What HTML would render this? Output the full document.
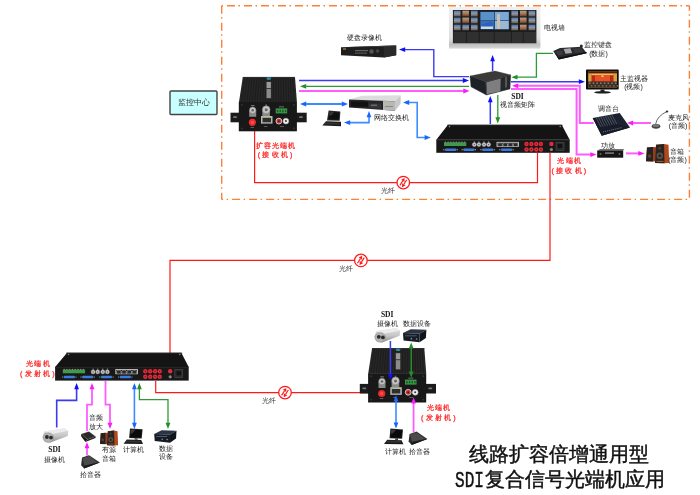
<!DOCTYPE html><html><head><meta charset="utf-8"><style>html,body{margin:0;padding:0;background:#fff;}svg{display:block;will-change:transform}</style></head><body>
<svg width="700" height="495" viewBox="0 0 700 495">
<line x1="221.7" y1="5.7" x2="689.4" y2="5.7" stroke="#fa8236" stroke-width="1.4" stroke-dasharray="8 3.5 1.5 4" stroke-dashoffset="11.7"/>
<line x1="689.4" y1="5.7" x2="689.4" y2="199.4" stroke="#fa8236" stroke-width="1.4" stroke-dasharray="8 3.5 1.5 4" stroke-dashoffset="3"/>
<line x1="221.7" y1="5.7" x2="221.7" y2="199.4" stroke="#fa8236" stroke-width="1.4" stroke-dasharray="8 3.5 1.5 4" stroke-dashoffset="0"/>
<line x1="221.7" y1="199.4" x2="689.4" y2="199.4" stroke="#fa8236" stroke-width="1.4" stroke-dasharray="8 3.5 1.5 4" stroke-dashoffset="6.6"/>
<rect x="170" y="91" width="47" height="23.5" rx="1" fill="#c8ffff" stroke="#444" stroke-width="1.4"/>
<text x="193.5" y="105" font-size="8.2" fill="#333" text-anchor="middle" font-weight="normal" font-family="Liberation Sans">监控中心</text>
<path d="M299,80.5 L466,80.5" fill="none" stroke="#3b3bf2" stroke-width="1.4" stroke-linejoin="miter"/>
<polygon points="469,80.5 462.8,78.1 462.8,82.9" fill="#1010f8"/>
<path d="M303,86.3 L469,86.3" fill="none" stroke="#2f9a34" stroke-width="1.3" stroke-linejoin="miter"/>
<polygon points="300,86.3 306.2,83.89999999999999 306.2,88.7" fill="#229028"/>
<path d="M299,91 L466,91" fill="none" stroke="#ff5cff" stroke-width="2" stroke-linejoin="miter"/>
<polygon points="469.5,91 463.3,88.6 463.3,93.4" fill="#f81cf8"/>
<path d="M303,104 L345,104" fill="none" stroke="#3b8cff" stroke-width="2" stroke-linejoin="miter"/>
<polygon points="300,104 306.2,101.6 306.2,106.4" fill="#1866ff"/>
<polygon points="348,104 341.8,101.6 341.8,106.4" fill="#1866ff"/>
<path d="M469,76.6 L433.8,76.6 L433.8,49.6 L403,49.6" fill="none" stroke="#3b3bf2" stroke-width="1.4" stroke-linejoin="miter"/>
<polygon points="399,49.6 405.2,47.2 405.2,52.0" fill="#1010f8"/>
<path d="M369,114 L369,122.6 L347,122.6" fill="none" stroke="#3b8cff" stroke-width="1.6" stroke-linejoin="miter"/>
<polygon points="369,111 366.6,117.2 371.4,117.2" fill="#1866ff"/>
<polygon points="344,122.6 350.2,120.19999999999999 350.2,125.0" fill="#1866ff"/>
<path d="M406,102.5 L417.2,102.5 L417.2,137.5 L427,137.5" fill="none" stroke="#3b8cff" stroke-width="1.6" stroke-linejoin="miter"/>
<polygon points="403,102.5 409.2,100.1 409.2,104.9" fill="#1866ff"/>
<polygon points="430.8,137.5 424.6,135.1 424.6,139.9" fill="#1866ff"/>
<path d="M492.6,71 L492.6,58" fill="none" stroke="#3b3bf2" stroke-width="1.5" stroke-linejoin="miter"/>
<polygon points="492.6,55 490.20000000000005,61.2 495.0,61.2" fill="#1010f8"/>
<path d="M553,53.4 L536.4,53.4 L536.4,77.2 L514.5,77.2" fill="none" stroke="#2f9a34" stroke-width="1.3" stroke-linejoin="miter"/>
<polygon points="511.3,77.2 517.5,74.8 517.5,79.60000000000001" fill="#229028"/>
<path d="M511,81.7 L582,81.7" fill="none" stroke="#3b3bf2" stroke-width="1.5" stroke-linejoin="miter"/>
<polygon points="585,81.7 578.8,79.3 578.8,84.10000000000001" fill="#1010f8"/>
<path d="M593.6,123 L579.8,123 L579.8,85.8 L515,85.8" fill="none" stroke="#ff5cff" stroke-width="2" stroke-linejoin="miter"/>
<polygon points="512,85.8 518.2,83.39999999999999 518.2,88.2" fill="#f81cf8"/>
<path d="M511,89 L576.6,89 L576.6,154.6 L593,154.6" fill="none" stroke="#ff5cff" stroke-width="2" stroke-linejoin="miter"/>
<polygon points="596.5,154.6 590.3,152.2 590.3,157.0" fill="#f81cf8"/>
<path d="M651,123 L630,123" fill="none" stroke="#ff5cff" stroke-width="2" stroke-linejoin="miter"/>
<polygon points="627,123 633.2,120.6 633.2,125.4" fill="#f81cf8"/>
<path d="M626,153.4 L641,153.4" fill="none" stroke="#ff5cff" stroke-width="2" stroke-linejoin="miter"/>
<polygon points="644.5,153.4 638.3,151.0 638.3,155.8" fill="#f81cf8"/>
<path d="M490.3,124 L490.3,99" fill="none" stroke="#3b3bf2" stroke-width="1.5" stroke-linejoin="miter"/>
<polygon points="490.3,96 487.90000000000003,102.2 492.7,102.2" fill="#1010f8"/>
<path d="M497.8,95 L497.8,120" fill="none" stroke="#2f9a34" stroke-width="1.3" stroke-linejoin="miter"/>
<polygon points="497.8,123.5 495.40000000000003,117.3 500.2,117.3" fill="#229028"/>
<path d="M537.5,153 L537.5,182.7 L254.6,182.7 L254.6,131" fill="none" stroke="#ff1a1a" stroke-width="1.2" stroke-linejoin="miter"/>
<circle cx="403.3" cy="182.6" r="6.3" fill="#fff" stroke="#ff1a1a" stroke-width="1.3"/>
<path d="M399.90,185.40 L402.78,180.87" stroke="#ff1a1a" stroke-width="1.1"/>
<polygon points="404.60,178.00 404.47,181.94 401.09,179.80" fill="#ff1a1a"/>
<path d="M406.70,179.80 L403.82,184.33" stroke="#ff1a1a" stroke-width="1.1"/>
<polygon points="402.00,187.20 402.13,183.26 405.51,185.40" fill="#ff1a1a"/>
<text x="388" y="193" font-size="6.5" fill="#333" text-anchor="middle" font-weight="normal" font-family="Liberation Sans">光纤</text>
<path d="M550,153 L550,260.4 L170,260.4 L170,353" fill="none" stroke="#ff1a1a" stroke-width="1.2" stroke-linejoin="miter"/>
<circle cx="360.9" cy="260.4" r="6.3" fill="#fff" stroke="#ff1a1a" stroke-width="1.3"/>
<path d="M357.50,263.20 L360.38,258.67" stroke="#ff1a1a" stroke-width="1.1"/>
<polygon points="362.20,255.80 362.07,259.74 358.69,257.60" fill="#ff1a1a"/>
<path d="M364.30,257.60 L361.42,262.13" stroke="#ff1a1a" stroke-width="1.1"/>
<polygon points="359.60,265.00 359.73,261.06 363.11,263.20" fill="#ff1a1a"/>
<text x="345.6" y="271" font-size="6.5" fill="#333" text-anchor="middle" font-weight="normal" font-family="Liberation Sans">光纤</text>
<path d="M155.7,381 L155.7,392.7 L369,392.7" fill="none" stroke="#ff1a1a" stroke-width="1.2" stroke-linejoin="miter"/>
<circle cx="285" cy="392.6" r="6.3" fill="#fff" stroke="#ff1a1a" stroke-width="1.3"/>
<path d="M281.60,395.40 L284.48,390.87" stroke="#ff1a1a" stroke-width="1.1"/>
<polygon points="286.30,388.00 286.17,391.94 282.79,389.80" fill="#ff1a1a"/>
<path d="M288.40,389.80 L285.52,394.33" stroke="#ff1a1a" stroke-width="1.1"/>
<polygon points="283.70,397.20 283.83,393.26 287.21,395.40" fill="#ff1a1a"/>
<text x="269" y="403" font-size="6.5" fill="#333" text-anchor="middle" font-weight="normal" font-family="Liberation Sans">光纤</text>
<path d="M56.7,427.6 L56.7,400.4 L76.6,400.4 L76.6,386" fill="none" stroke="#3b3bf2" stroke-width="1.6" stroke-linejoin="miter"/>
<polygon points="76.6,383 74.19999999999999,389.2 79.0,389.2" fill="#1010f8"/>
<path d="M87,431 L87,404.6 L92,404.6 L92,386" fill="none" stroke="#ff5cff" stroke-width="1.8" stroke-linejoin="miter"/>
<polygon points="92,383 89.6,389.2 94.4,389.2" fill="#f81cf8"/>
<path d="M105.5,381 L105.5,404.6 L110,404.6 L110,426" fill="none" stroke="#ff5cff" stroke-width="1.8" stroke-linejoin="miter"/>
<polygon points="110,429 107.6,422.8 112.4,422.8" fill="#f81cf8"/>
<path d="M134.4,386 L134.4,426" fill="none" stroke="#3b8cff" stroke-width="1.6" stroke-linejoin="miter"/>
<polygon points="134.4,383 132.0,389.2 136.8,389.2" fill="#1866ff"/>
<polygon points="134.4,429 132.0,422.8 136.8,422.8" fill="#1866ff"/>
<path d="M139.4,386 L139.4,399.7 L168,399.7 L168,426" fill="none" stroke="#2f9a34" stroke-width="1.3" stroke-linejoin="miter"/>
<polygon points="139.4,383 137.0,389.2 141.8,389.2" fill="#229028"/>
<polygon points="168,429 165.6,422.8 170.4,422.8" fill="#229028"/>
<path d="M87,455.6 L87,445" fill="none" stroke="#ff5cff" stroke-width="1.8" stroke-linejoin="miter"/>
<polygon points="87,442 84.6,448.2 89.4,448.2" fill="#f81cf8"/>
<g transform="translate(239,101)">
<rect x="-8.5" y="11.7" width="76.2" height="9.6" fill="#1b1b1b"/>
<rect x="-6" y="15.2" width="4" height="1.8" rx="0.9" fill="#777"/>
<rect x="60" y="15.2" width="4" height="1.8" rx="0.9" fill="#777"/>
<polygon points="3.8,-24.1 56.0,-24.1 57.9,0.9 0.0,0.9" fill="#262626"/>
<line x1="6.2" y1="-23.6" x2="2.6" y2="0.5" stroke="#151515" stroke-width="0.6"/>
<line x1="8.5" y1="-23.6" x2="5.3" y2="0.5" stroke="#151515" stroke-width="0.6"/>
<line x1="10.9" y1="-23.6" x2="7.9" y2="0.5" stroke="#151515" stroke-width="0.6"/>
<line x1="13.3" y1="-23.6" x2="10.5" y2="0.5" stroke="#151515" stroke-width="0.6"/>
<line x1="15.7" y1="-23.6" x2="13.2" y2="0.5" stroke="#151515" stroke-width="0.6"/>
<line x1="18.0" y1="-23.6" x2="15.8" y2="0.5" stroke="#151515" stroke-width="0.6"/>
<line x1="20.4" y1="-23.6" x2="18.4" y2="0.5" stroke="#151515" stroke-width="0.6"/>
<line x1="22.8" y1="-23.6" x2="21.1" y2="0.5" stroke="#151515" stroke-width="0.6"/>
<line x1="25.2" y1="-23.6" x2="23.7" y2="0.5" stroke="#151515" stroke-width="0.6"/>
<line x1="27.5" y1="-23.6" x2="26.3" y2="0.5" stroke="#151515" stroke-width="0.6"/>
<line x1="29.9" y1="-23.6" x2="28.9" y2="0.5" stroke="#151515" stroke-width="0.6"/>
<line x1="32.3" y1="-23.6" x2="31.6" y2="0.5" stroke="#151515" stroke-width="0.6"/>
<line x1="34.6" y1="-23.6" x2="34.2" y2="0.5" stroke="#151515" stroke-width="0.6"/>
<line x1="37.0" y1="-23.6" x2="36.8" y2="0.5" stroke="#151515" stroke-width="0.6"/>
<line x1="39.4" y1="-23.6" x2="39.5" y2="0.5" stroke="#151515" stroke-width="0.6"/>
<line x1="41.8" y1="-23.6" x2="42.1" y2="0.5" stroke="#151515" stroke-width="0.6"/>
<line x1="44.1" y1="-23.6" x2="44.7" y2="0.5" stroke="#151515" stroke-width="0.6"/>
<line x1="46.5" y1="-23.6" x2="47.4" y2="0.5" stroke="#151515" stroke-width="0.6"/>
<line x1="48.9" y1="-23.6" x2="50.0" y2="0.5" stroke="#151515" stroke-width="0.6"/>
<line x1="51.3" y1="-23.6" x2="52.6" y2="0.5" stroke="#151515" stroke-width="0.6"/>
<line x1="53.6" y1="-23.6" x2="55.3" y2="0.5" stroke="#151515" stroke-width="0.6"/>
<rect x="3.8" y="-24.1" width="52.2" height="0.8" fill="#333"/>
<rect x="27.2" y="-19.5" width="5.1" height="17.2" fill="#3a3a3a"/>
<rect x="27.6" y="-19" width="4.3" height="6" fill="#9a9a9a"/>
<rect x="27.6" y="-12" width="4.3" height="9" fill="#8a8a8a"/>
<ellipse cx="29.8" cy="-22.8" rx="2.6" ry="1.2" fill="#2a70c0"/>
<ellipse cx="29.8" cy="-21.8" rx="1.8" ry="0.6" fill="#40a050"/>
<rect x="-0.2" y="0.9" width="58.1" height="29.4" fill="#181818"/>
<circle cx="2.8" cy="4" r="1" fill="#333"/>
<circle cx="55" cy="4" r="1" fill="#333"/>
<circle cx="2.8" cy="27.5" r="1" fill="#333"/>
<circle cx="55" cy="27.5" r="1" fill="#333"/>
<rect x="10.2" y="9.5" width="7" height="6.3" fill="#8a8a8a"/>
<circle cx="13.7" cy="9.3" r="3.3" fill="#c4c4c4" stroke="#777" stroke-width="0.5"/>
<circle cx="13.7" cy="9.3" r="1.3" fill="#666"/>
<rect x="12" y="4.3" width="3.5" height="0.8" fill="#999"/>
<circle cx="13.4" cy="21.3" r="3.6" fill="#ee2a2a"/>
<circle cx="13.4" cy="21.3" r="1.6" fill="#ff5050"/>
<rect x="23.3" y="10" width="7.6" height="5.2" fill="#8a8a8a"/>
<circle cx="27.2" cy="8.7" r="3.9" fill="#c4c4c4" stroke="#777" stroke-width="0.5"/>
<circle cx="27.2" cy="8.7" r="1.5" fill="#666"/>
<rect x="26.4" y="3.6" width="1.6" height="0.8" fill="#999"/>
<rect x="22" y="15" width="11.5" height="7.6" fill="#b8b8b8"/>
<rect x="23.5" y="16.8" width="8.5" height="4.5" fill="#2e2e2e"/>
<rect x="23.3" y="15.4" width="1.6" height="1" fill="#9c0"/><rect x="30.6" y="15.4" width="1.6" height="1" fill="#dc0"/>
<rect x="36.7" y="7.4" width="11.5" height="5" fill="#3b9a48"/>
<rect x="37.8" y="8.8" width="1.5" height="2.4" fill="#1d5a26"/>
<rect x="40.5" y="8.8" width="1.5" height="2.4" fill="#1d5a26"/>
<rect x="43.2" y="8.8" width="1.5" height="2.4" fill="#1d5a26"/>
<rect x="45.9" y="8.8" width="1.5" height="2.4" fill="#1d5a26"/>
<rect x="40" y="5.5" width="5" height="0.8" fill="#888"/>
<circle cx="39.9" cy="20.1" r="2.9" fill="#d03030" stroke="#d8d8d8" stroke-width="0.9"/>
<circle cx="39.9" cy="20.1" r="0.9" fill="#222"/>
<circle cx="46.9" cy="20.1" r="2.9" fill="#f0f0f0" stroke="#aaa" stroke-width="0.6"/>
<circle cx="46.9" cy="20.1" r="1" fill="#333"/>
<rect x="11.5" y="26" width="3.5" height="0.7" fill="#777"/><rect x="25" y="25" width="3.5" height="0.7" fill="#777"/><rect x="41" y="25" width="4" height="0.7" fill="#777"/>
</g>
<g transform="translate(368.3,372.2)">
<rect x="-8.5" y="11.7" width="76.2" height="9.6" fill="#1b1b1b"/>
<rect x="-6" y="15.2" width="4" height="1.8" rx="0.9" fill="#777"/>
<rect x="60" y="15.2" width="4" height="1.8" rx="0.9" fill="#777"/>
<polygon points="3.8,-24.1 56.0,-24.1 57.9,0.9 0.0,0.9" fill="#262626"/>
<line x1="6.2" y1="-23.6" x2="2.6" y2="0.5" stroke="#151515" stroke-width="0.6"/>
<line x1="8.5" y1="-23.6" x2="5.3" y2="0.5" stroke="#151515" stroke-width="0.6"/>
<line x1="10.9" y1="-23.6" x2="7.9" y2="0.5" stroke="#151515" stroke-width="0.6"/>
<line x1="13.3" y1="-23.6" x2="10.5" y2="0.5" stroke="#151515" stroke-width="0.6"/>
<line x1="15.7" y1="-23.6" x2="13.2" y2="0.5" stroke="#151515" stroke-width="0.6"/>
<line x1="18.0" y1="-23.6" x2="15.8" y2="0.5" stroke="#151515" stroke-width="0.6"/>
<line x1="20.4" y1="-23.6" x2="18.4" y2="0.5" stroke="#151515" stroke-width="0.6"/>
<line x1="22.8" y1="-23.6" x2="21.1" y2="0.5" stroke="#151515" stroke-width="0.6"/>
<line x1="25.2" y1="-23.6" x2="23.7" y2="0.5" stroke="#151515" stroke-width="0.6"/>
<line x1="27.5" y1="-23.6" x2="26.3" y2="0.5" stroke="#151515" stroke-width="0.6"/>
<line x1="29.9" y1="-23.6" x2="28.9" y2="0.5" stroke="#151515" stroke-width="0.6"/>
<line x1="32.3" y1="-23.6" x2="31.6" y2="0.5" stroke="#151515" stroke-width="0.6"/>
<line x1="34.6" y1="-23.6" x2="34.2" y2="0.5" stroke="#151515" stroke-width="0.6"/>
<line x1="37.0" y1="-23.6" x2="36.8" y2="0.5" stroke="#151515" stroke-width="0.6"/>
<line x1="39.4" y1="-23.6" x2="39.5" y2="0.5" stroke="#151515" stroke-width="0.6"/>
<line x1="41.8" y1="-23.6" x2="42.1" y2="0.5" stroke="#151515" stroke-width="0.6"/>
<line x1="44.1" y1="-23.6" x2="44.7" y2="0.5" stroke="#151515" stroke-width="0.6"/>
<line x1="46.5" y1="-23.6" x2="47.4" y2="0.5" stroke="#151515" stroke-width="0.6"/>
<line x1="48.9" y1="-23.6" x2="50.0" y2="0.5" stroke="#151515" stroke-width="0.6"/>
<line x1="51.3" y1="-23.6" x2="52.6" y2="0.5" stroke="#151515" stroke-width="0.6"/>
<line x1="53.6" y1="-23.6" x2="55.3" y2="0.5" stroke="#151515" stroke-width="0.6"/>
<rect x="3.8" y="-24.1" width="52.2" height="0.8" fill="#333"/>
<rect x="27.2" y="-19.5" width="5.1" height="17.2" fill="#3a3a3a"/>
<rect x="27.6" y="-19" width="4.3" height="6" fill="#9a9a9a"/>
<rect x="27.6" y="-12" width="4.3" height="9" fill="#8a8a8a"/>
<ellipse cx="29.8" cy="-22.8" rx="2.6" ry="1.2" fill="#2a70c0"/>
<ellipse cx="29.8" cy="-21.8" rx="1.8" ry="0.6" fill="#40a050"/>
<rect x="-0.2" y="0.9" width="58.1" height="29.4" fill="#181818"/>
<circle cx="2.8" cy="4" r="1" fill="#333"/>
<circle cx="55" cy="4" r="1" fill="#333"/>
<circle cx="2.8" cy="27.5" r="1" fill="#333"/>
<circle cx="55" cy="27.5" r="1" fill="#333"/>
<rect x="10.2" y="9.5" width="7" height="6.3" fill="#8a8a8a"/>
<circle cx="13.7" cy="9.3" r="3.3" fill="#c4c4c4" stroke="#777" stroke-width="0.5"/>
<circle cx="13.7" cy="9.3" r="1.3" fill="#666"/>
<rect x="12" y="4.3" width="3.5" height="0.8" fill="#999"/>
<circle cx="13.4" cy="21.3" r="3.6" fill="#ee2a2a"/>
<circle cx="13.4" cy="21.3" r="1.6" fill="#ff5050"/>
<rect x="23.3" y="10" width="7.6" height="5.2" fill="#8a8a8a"/>
<circle cx="27.2" cy="8.7" r="3.9" fill="#c4c4c4" stroke="#777" stroke-width="0.5"/>
<circle cx="27.2" cy="8.7" r="1.5" fill="#666"/>
<rect x="26.4" y="3.6" width="1.6" height="0.8" fill="#999"/>
<rect x="22" y="15" width="11.5" height="7.6" fill="#b8b8b8"/>
<rect x="23.5" y="16.8" width="8.5" height="4.5" fill="#2e2e2e"/>
<rect x="23.3" y="15.4" width="1.6" height="1" fill="#9c0"/><rect x="30.6" y="15.4" width="1.6" height="1" fill="#dc0"/>
<rect x="36.7" y="7.4" width="11.5" height="5" fill="#3b9a48"/>
<rect x="37.8" y="8.8" width="1.5" height="2.4" fill="#1d5a26"/>
<rect x="40.5" y="8.8" width="1.5" height="2.4" fill="#1d5a26"/>
<rect x="43.2" y="8.8" width="1.5" height="2.4" fill="#1d5a26"/>
<rect x="45.9" y="8.8" width="1.5" height="2.4" fill="#1d5a26"/>
<rect x="40" y="5.5" width="5" height="0.8" fill="#888"/>
<circle cx="39.9" cy="20.1" r="2.9" fill="#d03030" stroke="#d8d8d8" stroke-width="0.9"/>
<circle cx="39.9" cy="20.1" r="0.9" fill="#222"/>
<circle cx="46.9" cy="20.1" r="2.9" fill="#f0f0f0" stroke="#aaa" stroke-width="0.6"/>
<circle cx="46.9" cy="20.1" r="1" fill="#333"/>
<rect x="11.5" y="26" width="3.5" height="0.7" fill="#777"/><rect x="25" y="25" width="3.5" height="0.7" fill="#777"/><rect x="41" y="25" width="4" height="0.7" fill="#777"/>
</g>
<polygon points="341.0,47.2 385.0,45.8 396.2,45.5 396.2,55.3 384.0,57.5 341.0,55.2" fill="#1e1e1e"/>
<polygon points="384.0,46.5 396.2,45.5 396.2,55.3 384.0,57.5" fill="#2a2a2a"/>
<polygon points="341.0,47.2 385.0,45.8 396.2,45.5 384.0,47.0" fill="#3a3a3a"/>
<rect x="343" y="48.5" width="3" height="1" fill="#c9a040"/>
<rect x="355" y="50" width="13" height="1.2" fill="#666"/>
<rect x="355" y="52.5" width="12" height="1.2" fill="#555"/>
<circle cx="371.5" cy="51.5" r="2.2" fill="#555"/>
<circle cx="377.5" cy="51" r="1.8" fill="#444"/>
<polygon points="349.0,99.5 362.0,95.8 400.6,95.3 395.0,101.3" fill="#dcdcdc"/>
<polygon points="349.0,99.5 395.0,101.3 395.0,110.8 349.0,107.6" fill="#262626"/>
<polygon points="383.0,100.9 395.0,101.3 395.0,110.8 383.0,110.0" fill="#b8b8b8"/>
<polygon points="395.0,101.3 400.6,95.3 400.6,103.8 395.0,110.8" fill="#c8c8c8"/>
<rect x="351" y="101.5" width="17" height="5.2" fill="#121212"/>
<rect x="369" y="103.5" width="12" height="5" fill="#333"/>
<rect x="371" y="104.5" width="6" height="1.6" fill="#667"/>
<rect x="387" y="103" width="2.5" height="1" fill="#e0c040"/>
<rect x="385" y="106" width="8" height="1" fill="#888"/>
<g transform="translate(322.3,110.6) scale(1.0)">
<polygon points="6.3,0.0 18.1,1.0 17.4,10.2 4.7,10.0" fill="#2a2a2a"/>
<polygon points="7.3,1.2 17.0,2.0 16.4,9.2 6.0,9.0" fill="#0e0e0e"/>
<polygon points="7.3,1.2 12.0,1.6 9.0,5.0 6.6,5.0" fill="#333"/>
<polygon points="3.7,10.6 18.7,11.2 18.7,15.6 0.0,14.9" fill="#1c1c1c"/>
<polygon points="3.0,12.0 17.5,12.5 17.5,14.0 1.5,13.6" fill="#333"/>
</g>
<defs><linearGradient id="vwg" x1="0" y1="0" x2="0" y2="1"><stop offset="0" stop-color="#efefef"/><stop offset="0.75" stop-color="#e0e0e0"/><stop offset="0.9" stop-color="#c0c0c0"/><stop offset="1" stop-color="#d8d8d8"/></linearGradient><linearGradient id="scr" x1="0" y1="0" x2="0" y2="1"><stop offset="0" stop-color="#4f74a8"/><stop offset="0.5" stop-color="#8a98a8"/><stop offset="1" stop-color="#6a5648"/></linearGradient><linearGradient id="scr2" x1="0" y1="0" x2="0" y2="1"><stop offset="0" stop-color="#b8a088"/><stop offset="0.6" stop-color="#a86a48"/><stop offset="1" stop-color="#4a4038"/></linearGradient></defs>
<rect x="449" y="7.1" width="91.4" height="41.5" fill="url(#vwg)"/>
<rect x="452.9" y="10" width="83.5" height="33.3" fill="#1e1e1e"/>
<rect x="453.9" y="10.7" width="6.6" height="5.7" fill="url(#scr)"/>
<rect x="462.4" y="10.7" width="6.6" height="5.7" fill="url(#scr2)"/>
<rect x="471" y="10.7" width="6.6" height="5.7" fill="url(#scr)"/>
<rect x="453.9" y="17.6" width="6.6" height="5.7" fill="url(#scr)"/>
<rect x="462.4" y="17.6" width="6.6" height="5.7" fill="url(#scr2)"/>
<rect x="471" y="17.6" width="6.6" height="5.7" fill="url(#scr)"/>
<rect x="453.9" y="24.7" width="6.6" height="5.7" fill="url(#scr)"/>
<rect x="462.4" y="24.7" width="6.6" height="5.7" fill="url(#scr)"/>
<rect x="471" y="24.7" width="6.6" height="5.7" fill="url(#scr)"/>
<rect x="511.4" y="10.7" width="6.6" height="5.7" fill="url(#scr)"/>
<rect x="520" y="10.7" width="6.6" height="5.7" fill="url(#scr2)"/>
<rect x="528.6" y="10.7" width="6.6" height="5.7" fill="url(#scr)"/>
<rect x="511.4" y="17.6" width="6.6" height="5.7" fill="url(#scr)"/>
<rect x="520" y="17.6" width="6.6" height="5.7" fill="url(#scr2)"/>
<rect x="528.6" y="17.6" width="6.6" height="5.7" fill="url(#scr)"/>
<rect x="511.4" y="24.7" width="6.6" height="5.7" fill="url(#scr)"/>
<rect x="520" y="24.7" width="6.6" height="5.7" fill="url(#scr2)"/>
<rect x="528.6" y="24.7" width="6.6" height="5.7" fill="url(#scr)"/>
<rect x="480" y="11.4" width="29.3" height="18.2" fill="#1a3a6a"/>
<rect x="480.5" y="12" width="13.8" height="8.4" fill="#5a90c8"/>
<rect x="495" y="12" width="13.8" height="8.4" fill="#7aa8d8"/>
<rect x="480.5" y="21" width="13.8" height="8.2" fill="#3a70b0"/>
<rect x="495" y="21" width="13.8" height="8.2" fill="#9ab8d0"/>
<polygon points="481,25 490,21.5 494,24 486,29" fill="#2a60c0"/>
<rect x="497" y="14" width="3" height="15" fill="#c8c0b0"/>
<rect x="481" y="26.5" width="12" height="2.5" fill="#d0d8e0"/>
<rect x="453.5" y="31.4" width="82.5" height="11.5" fill="#303030"/>
<line x1="466.4" y1="31.5" x2="466.4" y2="42.8" stroke="#1a1a1a" stroke-width="0.8"/>
<line x1="479.3" y1="31.5" x2="479.3" y2="42.8" stroke="#1a1a1a" stroke-width="0.8"/>
<line x1="494.3" y1="31.5" x2="494.3" y2="42.8" stroke="#1a1a1a" stroke-width="0.8"/>
<line x1="511.4" y1="31.5" x2="511.4" y2="42.8" stroke="#1a1a1a" stroke-width="0.8"/>
<line x1="523.3" y1="31.5" x2="523.3" y2="42.8" stroke="#1a1a1a" stroke-width="0.8"/>
<line x1="453.5" y1="31.2" x2="536" y2="31.2" stroke="#151515" stroke-width="0.8"/>
<polygon points="470.0,76.1 495.0,71.1 510.7,75.0 485.7,81.8" fill="#3c3a39" stroke="#3c3a39" stroke-width="0.4"/>
<polygon points="470.0,76.1 485.7,81.8 486.4,95.0 471.0,86.8" fill="#1e2126" stroke="#1e2126" stroke-width="0.4"/>
<polygon points="485.7,81.8 510.7,75.0 510.0,88.9 486.4,95.0" fill="#24272c" stroke="#24272c" stroke-width="0.4"/>
<polygon points="486.4,82.3 500.7,78.4 500.4,91.3 486.8,94.3" fill="#7e7e7e"/>
<polygon points="505.0,77.2 507.2,76.6 507.0,87.3 505.0,87.8" fill="#555"/>
<polygon points="553.3,50.9 560.0,47.9 581.8,46.7 586.7,53.3 558.8,59.4" fill="#2a2a2e"/>
<polygon points="553.3,50.9 558.8,57.6 586.7,52.0 586.7,53.3 558.8,59.4" fill="#111"/>
<polygon points="563.6,49.0 570.5,48.3 572.0,53.0 565.5,53.8" fill="#a8a8a8"/>
<polygon points="556.0,51.5 562.0,50.0 563.5,54.5 558.0,55.5" fill="#3a3a40"/>
<polygon points="573.0,48.5 580.0,47.8 583.5,52.3 575.0,53.0" fill="#38383c"/>
<line x1="581.3" y1="49.5" x2="581.3" y2="46.5" stroke="#333" stroke-width="1"/>
<circle cx="581.3" cy="46" r="1.5" fill="#2a2a2a"/>
<rect x="586" y="69.6" width="32.7" height="20" rx="0.8" fill="#0e0e0e"/>
<rect x="588.2" y="71.5" width="28.8" height="16.1" fill="#d8a040"/>
<rect x="588.2" y="71.5" width="28.8" height="1.8" fill="#5a1a08"/>
<rect x="591.5" y="74" width="22" height="8" fill="#b82a14"/>
<rect x="595" y="75.5" width="15" height="6" fill="#e8502a"/>
<rect x="591.5" y="74" width="22" height="1.2" fill="#f0c050"/>
<rect x="601.5" y="75.5" width="2" height="1.5" fill="#f8e070"/>
<rect x="588.2" y="81.5" width="28.8" height="6.1" fill="#3a3028"/>
<circle cx="589.8" cy="83.2" r="0.9" fill="#8a7a60"/>
<circle cx="591.6" cy="85.8" r="0.9" fill="#7a6a55"/>
<circle cx="593.5" cy="83.2" r="0.9" fill="#8a7a60"/>
<circle cx="595.3" cy="85.8" r="0.9" fill="#7a6a55"/>
<circle cx="597.2" cy="83.2" r="0.9" fill="#8a7a60"/>
<circle cx="599.0" cy="85.8" r="0.9" fill="#7a6a55"/>
<circle cx="600.9" cy="83.2" r="0.9" fill="#8a7a60"/>
<circle cx="602.7" cy="85.8" r="0.9" fill="#7a6a55"/>
<circle cx="604.6" cy="83.2" r="0.9" fill="#8a7a60"/>
<circle cx="606.4" cy="85.8" r="0.9" fill="#7a6a55"/>
<circle cx="608.3" cy="83.2" r="0.9" fill="#8a7a60"/>
<circle cx="610.1" cy="85.8" r="0.9" fill="#7a6a55"/>
<circle cx="612.0" cy="83.2" r="0.9" fill="#8a7a60"/>
<circle cx="613.8" cy="85.8" r="0.9" fill="#7a6a55"/>
<circle cx="615.7" cy="83.2" r="0.9" fill="#8a7a60"/>
<circle cx="617.5" cy="85.8" r="0.9" fill="#7a6a55"/>
<rect x="600.5" y="89.6" width="4" height="1.8" fill="#222"/>
<ellipse cx="602.5" cy="92.3" rx="8.5" ry="1.2" fill="#1a1a1a"/>
<polygon points="592.7,117.9 619.7,113.0 630.0,127.5 601.7,135.8" fill="#1e2230"/>
<polygon points="592.7,117.9 630.0,127.5 601.7,135.8" fill="#181c28"/>
<line x1="596.0" y1="117.5" x2="601.0" y2="127.0" stroke="#6a7080" stroke-width="0.6"/>
<line x1="598.2" y1="117.1" x2="603.2" y2="126.6" stroke="#6a7080" stroke-width="0.6"/>
<line x1="600.5" y1="116.7" x2="605.5" y2="126.2" stroke="#6a7080" stroke-width="0.6"/>
<line x1="602.8" y1="116.3" x2="607.8" y2="125.8" stroke="#6a7080" stroke-width="0.6"/>
<line x1="605.0" y1="115.8" x2="610.0" y2="125.3" stroke="#6a7080" stroke-width="0.6"/>
<line x1="607.2" y1="115.4" x2="612.2" y2="124.9" stroke="#6a7080" stroke-width="0.6"/>
<line x1="609.5" y1="115.0" x2="614.5" y2="124.5" stroke="#6a7080" stroke-width="0.6"/>
<line x1="611.8" y1="114.6" x2="616.8" y2="124.1" stroke="#6a7080" stroke-width="0.6"/>
<line x1="603" y1="132" x2="622" y2="127.5" stroke="#8a90a0" stroke-width="0.8" stroke-dasharray="1 1"/>
<ellipse cx="656" cy="126.3" rx="4.3" ry="2.4" fill="#444"/>
<ellipse cx="656" cy="125.5" rx="3.3" ry="1.5" fill="#777"/>
<path d="M655.7,124 Q657,116 667.3,111.4" fill="none" stroke="#555" stroke-width="0.9"/>
<ellipse cx="667" cy="111.5" rx="1.3" ry="1" fill="#333"/>
<polygon points="597.5,150.5 600.0,149.3 624.2,149.3 623.0,150.5" fill="#444"/>
<rect x="597.2" y="150.5" width="26" height="7.2" fill="#161616"/>
<rect x="605" y="152.3" width="9" height="1.6" fill="#777"/>
<circle cx="600.5" cy="154" r="1" fill="#666"/><circle cx="619.5" cy="154" r="1" fill="#666"/>
<g transform="translate(646,143.6) scale(1.0)">
<polygon points="1.0,3.8 8.0,3.3 11.0,4.0 11.0,17.6 8.0,18.0 0.0,17.6" fill="#9a3c18"/>
<polygon points="1.0,3.8 7.0,3.4 7.0,17.8 0.0,17.6" fill="#262220"/>
<circle cx="3.6" cy="12.5" r="1.8" fill="#4a4440"/>
<polygon points="10.0,1.2 18.0,0.3 22.5,1.2 23.2,19.3 18.5,19.6 9.0,19.3" fill="#b04a1e"/>
<polygon points="10.0,1.2 18.0,0.3 18.5,19.6 9.0,19.3" fill="#2a2420"/>
<circle cx="13.8" cy="12.2" r="3.2" fill="#5a524c"/>
<circle cx="13.8" cy="12.2" r="1.5" fill="#2a2624"/>
<circle cx="13.6" cy="4.6" r="1.3" fill="#4a4440"/>
<rect x="10.5" y="17.3" width="7" height="0.8" fill="#c07040"/>
</g>
<polygon points="448.0,124.8 561.7,124.8 569.7,139.7 436.3,139.7" fill="#141414"/>
<rect x="447" y="124.8" width="115.70000000000005" height="0.8" fill="#2c2c2c"/>
<circle cx="449.5" cy="126.6" r="0.8" fill="#888"/>
<circle cx="560.2" cy="126.6" r="0.8" fill="#888"/>
<rect x="436.3" y="139.7" width="133.40000000000003" height="13.100000000000023" fill="#181818"/>
<rect x="436.3" y="139.7" width="133.40000000000003" height="0.7" fill="#2e2e2e"/>
<g transform="translate(436.3,140)">
<rect x="7.7" y="2.3" width="22.3" height="3.7" fill="#3f9a4a"/>
<rect x="8.50" y="1.6" width="1.2" height="1" fill="#999"/>
<rect x="11.25" y="1.6" width="1.2" height="1" fill="#999"/>
<rect x="14.00" y="1.6" width="1.2" height="1" fill="#999"/>
<rect x="16.75" y="1.6" width="1.2" height="1" fill="#999"/>
<rect x="19.50" y="1.6" width="1.2" height="1" fill="#999"/>
<rect x="22.25" y="1.6" width="1.2" height="1" fill="#999"/>
<rect x="25.00" y="1.6" width="1.2" height="1" fill="#999"/>
<rect x="27.75" y="1.6" width="1.2" height="1" fill="#999"/>
<rect x="7.300000000000001" y="8.6" width="14" height="2.3" fill="#222"/>
<rect x="8.8" y="8.4" width="11" height="2.6" rx="0.8" fill="#3a7be0"/>
<circle cx="7.500000000000001" cy="9.7" r="0.6" fill="#aaa"/><circle cx="20.9" cy="9.7" r="0.6" fill="#aaa"/>
<rect x="25.6" y="8.6" width="14" height="2.3" fill="#222"/>
<rect x="27.1" y="8.4" width="11" height="2.6" rx="0.8" fill="#3a7be0"/>
<circle cx="25.8" cy="9.7" r="0.6" fill="#aaa"/><circle cx="39.2" cy="9.7" r="0.6" fill="#aaa"/>
<rect x="44.4" y="8.6" width="14" height="2.3" fill="#222"/>
<rect x="45.9" y="8.4" width="11" height="2.6" rx="0.8" fill="#3a7be0"/>
<circle cx="44.6" cy="9.7" r="0.6" fill="#aaa"/><circle cx="58.0" cy="9.7" r="0.6" fill="#aaa"/>
<rect x="63.3" y="8.6" width="14" height="2.3" fill="#222"/>
<rect x="64.8" y="8.4" width="11" height="2.6" rx="0.8" fill="#3a7be0"/>
<circle cx="63.5" cy="9.7" r="0.6" fill="#aaa"/><circle cx="76.89999999999999" cy="9.7" r="0.6" fill="#aaa"/>
<rect x="37.5" y="1.2" width="1" height="2" fill="#888"/>
<circle cx="38" cy="4.6" r="2.1" fill="#c8c8c8" stroke="#888" stroke-width="0.4"/>
<circle cx="38" cy="4.6" r="0.7" fill="#555"/>
<rect x="42.1" y="1.2" width="1" height="2" fill="#888"/>
<circle cx="42.6" cy="4.6" r="2.1" fill="#c8c8c8" stroke="#888" stroke-width="0.4"/>
<circle cx="42.6" cy="4.6" r="0.7" fill="#555"/>
<rect x="47.2" y="1.2" width="1" height="2" fill="#888"/>
<circle cx="47.7" cy="4.6" r="2.1" fill="#c8c8c8" stroke="#888" stroke-width="0.4"/>
<circle cx="47.7" cy="4.6" r="0.7" fill="#555"/>
<rect x="51.8" y="1.2" width="1" height="2" fill="#888"/>
<circle cx="52.3" cy="4.6" r="2.1" fill="#c8c8c8" stroke="#888" stroke-width="0.4"/>
<circle cx="52.3" cy="4.6" r="0.7" fill="#555"/>
<rect x="60.7" y="2.3" width="21.6" height="4.2" fill="none" stroke="#ddd" stroke-width="0.8"/>
<path d="M61.5,6.2 L61.5,3.8 L62.7,2.8 L64.8,2.8 L66.0,3.8 L66.0,6.2" fill="#2a2a2a" stroke="#ccc" stroke-width="0.5"/>
<path d="M66.7,6.2 L66.7,3.8 L67.9,2.8 L70.0,2.8 L71.2,3.8 L71.2,6.2" fill="#2a2a2a" stroke="#ccc" stroke-width="0.5"/>
<path d="M71.9,6.2 L71.9,3.8 L73.1,2.8 L75.2,2.8 L76.4,3.8 L76.4,6.2" fill="#2a2a2a" stroke="#ccc" stroke-width="0.5"/>
<path d="M77.1,6.2 L77.1,3.8 L78.3,2.8 L80.4,2.8 L81.6,3.8 L81.6,6.2" fill="#2a2a2a" stroke="#ccc" stroke-width="0.5"/>
<circle cx="90.2" cy="4" r="2.2" fill="#e02a3a"/>
<circle cx="90.2" cy="4" r="0.7" fill="#8a1018"/>
<circle cx="90.2" cy="9.5" r="2.2" fill="#e02a3a"/>
<circle cx="90.2" cy="9.5" r="0.7" fill="#8a1018"/>
<circle cx="95.1" cy="4" r="2.2" fill="#e02a3a"/>
<circle cx="95.1" cy="4" r="0.7" fill="#8a1018"/>
<circle cx="95.1" cy="9.5" r="2.2" fill="#e02a3a"/>
<circle cx="95.1" cy="9.5" r="0.7" fill="#8a1018"/>
<circle cx="100" cy="4" r="2.2" fill="#e02a3a"/>
<circle cx="100" cy="4" r="0.7" fill="#8a1018"/>
<circle cx="100" cy="9.5" r="2.2" fill="#e02a3a"/>
<circle cx="100" cy="9.5" r="0.7" fill="#8a1018"/>
<circle cx="104.6" cy="4" r="2.2" fill="#e02a3a"/>
<circle cx="104.6" cy="4" r="0.7" fill="#8a1018"/>
<circle cx="104.6" cy="9.5" r="2.2" fill="#e02a3a"/>
<circle cx="104.6" cy="9.5" r="0.7" fill="#8a1018"/>
<circle cx="115.1" cy="4" r="2.2" fill="#e02a3a"/>
<circle cx="115.1" cy="9.5" r="1.6" fill="#888"/>
<rect x="119.7" y="2.3" width="8" height="8" fill="#2a2a2a" stroke="#555" stroke-width="0.5"/>
<rect x="121.5" y="4" width="4.4" height="4" fill="#111"/>
</g>
<polygon points="67.1,352.7 181.3,352.7 188.7,366.9 55.1,366.9" fill="#141414"/>
<rect x="66.1" y="352.7" width="116.20000000000002" height="0.8" fill="#2c2c2c"/>
<circle cx="68.6" cy="354.5" r="0.8" fill="#888"/>
<circle cx="179.8" cy="354.5" r="0.8" fill="#888"/>
<rect x="55.1" y="366.9" width="133.6" height="13.700000000000045" fill="#181818"/>
<rect x="55.1" y="366.9" width="133.6" height="0.7" fill="#2e2e2e"/>
<g transform="translate(55.1,367.3)">
<rect x="7.7" y="2.3" width="22.3" height="3.7" fill="#3f9a4a"/>
<rect x="8.50" y="1.6" width="1.2" height="1" fill="#999"/>
<rect x="11.25" y="1.6" width="1.2" height="1" fill="#999"/>
<rect x="14.00" y="1.6" width="1.2" height="1" fill="#999"/>
<rect x="16.75" y="1.6" width="1.2" height="1" fill="#999"/>
<rect x="19.50" y="1.6" width="1.2" height="1" fill="#999"/>
<rect x="22.25" y="1.6" width="1.2" height="1" fill="#999"/>
<rect x="25.00" y="1.6" width="1.2" height="1" fill="#999"/>
<rect x="27.75" y="1.6" width="1.2" height="1" fill="#999"/>
<rect x="7.300000000000001" y="8.6" width="14" height="2.3" fill="#222"/>
<rect x="8.8" y="8.4" width="11" height="2.6" rx="0.8" fill="#3a7be0"/>
<circle cx="7.500000000000001" cy="9.7" r="0.6" fill="#aaa"/><circle cx="20.9" cy="9.7" r="0.6" fill="#aaa"/>
<rect x="25.6" y="8.6" width="14" height="2.3" fill="#222"/>
<rect x="27.1" y="8.4" width="11" height="2.6" rx="0.8" fill="#3a7be0"/>
<circle cx="25.8" cy="9.7" r="0.6" fill="#aaa"/><circle cx="39.2" cy="9.7" r="0.6" fill="#aaa"/>
<rect x="44.4" y="8.6" width="14" height="2.3" fill="#222"/>
<rect x="45.9" y="8.4" width="11" height="2.6" rx="0.8" fill="#3a7be0"/>
<circle cx="44.6" cy="9.7" r="0.6" fill="#aaa"/><circle cx="58.0" cy="9.7" r="0.6" fill="#aaa"/>
<rect x="63.3" y="8.6" width="14" height="2.3" fill="#222"/>
<rect x="64.8" y="8.4" width="11" height="2.6" rx="0.8" fill="#3a7be0"/>
<circle cx="63.5" cy="9.7" r="0.6" fill="#aaa"/><circle cx="76.89999999999999" cy="9.7" r="0.6" fill="#aaa"/>
<rect x="37.5" y="1.2" width="1" height="2" fill="#888"/>
<circle cx="38" cy="4.6" r="2.1" fill="#c8c8c8" stroke="#888" stroke-width="0.4"/>
<circle cx="38" cy="4.6" r="0.7" fill="#555"/>
<rect x="42.1" y="1.2" width="1" height="2" fill="#888"/>
<circle cx="42.6" cy="4.6" r="2.1" fill="#c8c8c8" stroke="#888" stroke-width="0.4"/>
<circle cx="42.6" cy="4.6" r="0.7" fill="#555"/>
<rect x="47.2" y="1.2" width="1" height="2" fill="#888"/>
<circle cx="47.7" cy="4.6" r="2.1" fill="#c8c8c8" stroke="#888" stroke-width="0.4"/>
<circle cx="47.7" cy="4.6" r="0.7" fill="#555"/>
<rect x="51.8" y="1.2" width="1" height="2" fill="#888"/>
<circle cx="52.3" cy="4.6" r="2.1" fill="#c8c8c8" stroke="#888" stroke-width="0.4"/>
<circle cx="52.3" cy="4.6" r="0.7" fill="#555"/>
<rect x="60.7" y="2.3" width="21.6" height="4.2" fill="none" stroke="#ddd" stroke-width="0.8"/>
<path d="M61.5,6.2 L61.5,3.8 L62.7,2.8 L64.8,2.8 L66.0,3.8 L66.0,6.2" fill="#2a2a2a" stroke="#ccc" stroke-width="0.5"/>
<path d="M66.7,6.2 L66.7,3.8 L67.9,2.8 L70.0,2.8 L71.2,3.8 L71.2,6.2" fill="#2a2a2a" stroke="#ccc" stroke-width="0.5"/>
<path d="M71.9,6.2 L71.9,3.8 L73.1,2.8 L75.2,2.8 L76.4,3.8 L76.4,6.2" fill="#2a2a2a" stroke="#ccc" stroke-width="0.5"/>
<path d="M77.1,6.2 L77.1,3.8 L78.3,2.8 L80.4,2.8 L81.6,3.8 L81.6,6.2" fill="#2a2a2a" stroke="#ccc" stroke-width="0.5"/>
<circle cx="90.2" cy="4" r="2.2" fill="#e02a3a"/>
<circle cx="90.2" cy="4" r="0.7" fill="#8a1018"/>
<circle cx="90.2" cy="9.5" r="2.2" fill="#e02a3a"/>
<circle cx="90.2" cy="9.5" r="0.7" fill="#8a1018"/>
<circle cx="95.1" cy="4" r="2.2" fill="#e02a3a"/>
<circle cx="95.1" cy="4" r="0.7" fill="#8a1018"/>
<circle cx="95.1" cy="9.5" r="2.2" fill="#e02a3a"/>
<circle cx="95.1" cy="9.5" r="0.7" fill="#8a1018"/>
<circle cx="100" cy="4" r="2.2" fill="#e02a3a"/>
<circle cx="100" cy="4" r="0.7" fill="#8a1018"/>
<circle cx="100" cy="9.5" r="2.2" fill="#e02a3a"/>
<circle cx="100" cy="9.5" r="0.7" fill="#8a1018"/>
<circle cx="104.6" cy="4" r="2.2" fill="#e02a3a"/>
<circle cx="104.6" cy="4" r="0.7" fill="#8a1018"/>
<circle cx="104.6" cy="9.5" r="2.2" fill="#e02a3a"/>
<circle cx="104.6" cy="9.5" r="0.7" fill="#8a1018"/>
<circle cx="115.1" cy="4" r="2.2" fill="#e02a3a"/>
<circle cx="115.1" cy="9.5" r="1.6" fill="#888"/>
<rect x="119.7" y="2.3" width="8" height="8" fill="#2a2a2a" stroke="#555" stroke-width="0.5"/>
<rect x="121.5" y="4" width="4.4" height="4" fill="#111"/>
</g>
<g transform="translate(42.3,428) scale(1.0)">
<defs><linearGradient id="camg42" x1="0" y1="0" x2="0" y2="1"><stop offset="0" stop-color="#e4e4e4"/><stop offset="0.55" stop-color="#c4c4c4"/><stop offset="1" stop-color="#8c8c8c"/></linearGradient></defs>
<polygon points="2.0,3.5 22.0,0.3 26.0,2.8 25.5,8.0 8.0,14.6 2.5,13.5 0.3,9.0" fill="url(#camg42)"/>
<polygon points="2.0,3.5 22.0,0.3 26.0,2.8 7.0,6.5" fill="#ececec"/>
<ellipse cx="6" cy="9.6" rx="5.3" ry="4.8" fill="#b4b4b4" stroke="#8a8a8a" stroke-width="0.5"/>
<circle cx="4.6" cy="9" r="1.9" fill="#2a2a2a"/>
<circle cx="8.7" cy="9.6" r="1.9" fill="#2a2a2a"/>
</g>
<g transform="translate(374.2,327.8) scale(1.0)">
<defs><linearGradient id="camg374" x1="0" y1="0" x2="0" y2="1"><stop offset="0" stop-color="#e4e4e4"/><stop offset="0.55" stop-color="#c4c4c4"/><stop offset="1" stop-color="#8c8c8c"/></linearGradient></defs>
<polygon points="2.0,3.5 22.0,0.3 26.0,2.8 25.5,8.0 8.0,14.6 2.5,13.5 0.3,9.0" fill="url(#camg374)"/>
<polygon points="2.0,3.5 22.0,0.3 26.0,2.8 7.0,6.5" fill="#ececec"/>
<ellipse cx="6" cy="9.6" rx="5.3" ry="4.8" fill="#b4b4b4" stroke="#8a8a8a" stroke-width="0.5"/>
<circle cx="4.6" cy="9" r="1.9" fill="#2a2a2a"/>
<circle cx="8.7" cy="9.6" r="1.9" fill="#2a2a2a"/>
</g>
<g transform="translate(154.2,430.2) scale(1.0)">
<polygon points="0.0,3.7 7.4,0.0 22.3,0.5 15.8,4.3" fill="#2a3444"/>
<polygon points="0.0,3.7 15.8,4.3 15.8,12.5 0.5,10.7" fill="#161c26"/>
<polygon points="15.8,4.3 22.3,0.5 21.8,8.4 15.8,12.5" fill="#10141c"/>
<rect x="2" y="5.8" width="11" height="1" fill="#4a5a70"/>
<circle cx="8" cy="9" r="0.8" fill="#888"/><circle cx="13" cy="9.3" r="0.8" fill="#888"/>
</g>
<g transform="translate(403,329.2) scale(1.05)">
<polygon points="0.0,3.7 7.4,0.0 22.3,0.5 15.8,4.3" fill="#2a3444"/>
<polygon points="0.0,3.7 15.8,4.3 15.8,12.5 0.5,10.7" fill="#161c26"/>
<polygon points="15.8,4.3 22.3,0.5 21.8,8.4 15.8,12.5" fill="#10141c"/>
<rect x="2" y="5.8" width="11" height="1" fill="#4a5a70"/>
<circle cx="8" cy="9" r="0.8" fill="#888"/><circle cx="13" cy="9.3" r="0.8" fill="#888"/>
</g>
<polygon points="81.1,434.0 89.0,431.5 95.7,436.4 87.5,439.5" fill="#3a3a3a"/>
<polygon points="81.1,434.0 87.5,439.5 85.4,441.9 81.0,436.0" fill="#1a1a1a"/>
<polygon points="87.5,439.5 95.7,436.4 95.5,438.0 85.4,441.9" fill="#222"/>
<polygon points="83.0,434.2 89.0,432.3 93.5,436.0 87.5,438.3" fill="#2a2a2a"/>
<g transform="translate(81.1,455.2) scale(1.0)">
<polygon points="1.0,2.4 7.9,0.0 18.8,7.3 3.0,13.4 0.0,10.0" fill="#2c2c2c"/>
<polygon points="1.5,3.0 7.9,0.8 17.0,7.3 3.5,11.0" fill="#4a4a4a"/>
<polygon points="3.0,10.5 17.0,7.3 18.8,7.3 3.0,13.4" fill="#1a1a1a"/>
</g>
<g transform="translate(408.6,431.6) scale(1.0)">
<polygon points="1.0,2.4 7.9,0.0 18.8,7.3 3.0,13.4 0.0,10.0" fill="#2c2c2c"/>
<polygon points="1.5,3.0 7.9,0.8 17.0,7.3 3.5,11.0" fill="#4a4a4a"/>
<polygon points="3.0,10.5 17.0,7.3 18.8,7.3 3.0,13.4" fill="#1a1a1a"/>
</g>
<g transform="translate(100,430.2) scale(0.78)">
<polygon points="1.0,3.8 8.0,3.3 11.0,4.0 11.0,17.6 8.0,18.0 0.0,17.6" fill="#9a3c18"/>
<polygon points="1.0,3.8 7.0,3.4 7.0,17.8 0.0,17.6" fill="#262220"/>
<circle cx="3.6" cy="12.5" r="1.8" fill="#4a4440"/>
<polygon points="10.0,1.2 18.0,0.3 22.5,1.2 23.2,19.3 18.5,19.6 9.0,19.3" fill="#b04a1e"/>
<polygon points="10.0,1.2 18.0,0.3 18.5,19.6 9.0,19.3" fill="#2a2420"/>
<circle cx="13.8" cy="12.2" r="3.2" fill="#5a524c"/>
<circle cx="13.8" cy="12.2" r="1.5" fill="#2a2624"/>
<circle cx="13.6" cy="4.6" r="1.3" fill="#4a4440"/>
<rect x="10.5" y="17.3" width="7" height="0.8" fill="#c07040"/>
</g>
<g transform="translate(123.6,428.4) scale(1.0)">
<polygon points="6.4,0.0 19.0,0.9 18.1,10.2 5.5,9.7" fill="#222"/>
<polygon points="7.3,1.0 18.0,1.8 17.3,9.2 6.5,8.8" fill="#0a0a0a"/>
<polygon points="7.3,1.0 12.0,1.4 8.5,5.0 6.9,5.0" fill="#3a3a3a"/>
<polygon points="11.0,9.8 14.0,10.0 14.0,11.3 11.0,11.2" fill="#333"/>
<polygon points="3.2,11.1 17.6,11.6 19.4,15.7 0.0,15.3" fill="#1a1a1a"/>
<polygon points="3.5,12.0 16.5,12.4 17.5,14.0 2.0,13.8" fill="#333"/>
</g>
<g transform="translate(384,428.6) scale(1.0)">
<polygon points="6.4,0.0 19.0,0.9 18.1,10.2 5.5,9.7" fill="#222"/>
<polygon points="7.3,1.0 18.0,1.8 17.3,9.2 6.5,8.8" fill="#0a0a0a"/>
<polygon points="7.3,1.0 12.0,1.4 8.5,5.0 6.9,5.0" fill="#3a3a3a"/>
<polygon points="11.0,9.8 14.0,10.0 14.0,11.3 11.0,11.2" fill="#333"/>
<polygon points="3.2,11.1 17.6,11.6 19.4,15.7 0.0,15.3" fill="#1a1a1a"/>
<polygon points="3.5,12.0 16.5,12.4 17.5,14.0 2.0,13.8" fill="#333"/>
</g>
<path d="M390.4,341 L390.4,377" fill="none" stroke="#3b3bf2" stroke-width="1.5" stroke-linejoin="miter"/>
<polygon points="390.4,380 388.0,373.8 392.79999999999995,373.8" fill="#1010f8"/>
<path d="M411.2,345 L411.2,375" fill="none" stroke="#2f9a34" stroke-width="1.3" stroke-linejoin="miter"/>
<polygon points="411.2,342.4 408.8,348.59999999999997 413.59999999999997,348.59999999999997" fill="#229028"/>
<polygon points="411.2,377.8 408.8,371.6 413.59999999999997,371.6" fill="#229028"/>
<path d="M396,398 L396,425.6" fill="none" stroke="#3b8cff" stroke-width="1.6" stroke-linejoin="miter"/>
<polygon points="396,395 393.6,401.2 398.4,401.2" fill="#1866ff"/>
<polygon points="396,428.6 393.6,422.40000000000003 398.4,422.40000000000003" fill="#1866ff"/>
<path d="M413.6,432.6 L413.6,400.3" fill="none" stroke="#ff5cff" stroke-width="1.8" stroke-linejoin="miter"/>
<polygon points="413.6,397.3 411.20000000000005,403.5 416.0,403.5" fill="#f81cf8"/>
<text x="364" y="40.3" font-size="7" fill="#222" text-anchor="middle" font-weight="normal" font-family="Liberation Sans">硬盘录像机</text>
<text x="391" y="119.6" font-size="7" fill="#222" text-anchor="middle" font-weight="normal" font-family="Liberation Sans">网络交换机</text>
<text x="554" y="29.5" font-size="7" fill="#222" text-anchor="middle" font-weight="normal" font-family="Liberation Sans">电视墙</text>
<text x="517.5" y="98.5" font-size="7.5" fill="#111" text-anchor="middle" font-weight="bold" font-family="Liberation Serif">SDI</text>
<text x="517.7" y="107.3" font-size="7" fill="#222" text-anchor="middle" font-weight="normal" font-family="Liberation Sans">视音频矩阵</text>
<text x="598" y="46.5" font-size="7" fill="#222" text-anchor="middle" font-weight="normal" font-family="Liberation Sans">监控键盘</text>
<text x="598.5" y="56.3" font-size="7" fill="#222" text-anchor="middle" font-weight="normal" font-family="Liberation Sans">(数据)</text>
<text x="633.5" y="80.5" font-size="7" fill="#222" text-anchor="middle" font-weight="normal" font-family="Liberation Sans">主监视器</text>
<text x="633.5" y="88.5" font-size="7" fill="#222" text-anchor="middle" font-weight="normal" font-family="Liberation Sans">(视频)</text>
<text x="608" y="110.5" font-size="7" fill="#222" text-anchor="middle" font-weight="normal" font-family="Liberation Sans">调音台</text>
<text x="678.5" y="119.5" font-size="7" fill="#222" text-anchor="middle" font-weight="normal" font-family="Liberation Sans">麦克风</text>
<text x="678" y="127.5" font-size="7" fill="#222" text-anchor="middle" font-weight="normal" font-family="Liberation Sans">(音频)</text>
<text x="608.3" y="147.5" font-size="7" fill="#222" text-anchor="middle" font-weight="normal" font-family="Liberation Sans">功放</text>
<text x="677" y="153.5" font-size="7" fill="#222" text-anchor="middle" font-weight="normal" font-family="Liberation Sans">音箱</text>
<text x="677.5" y="162" font-size="7" fill="#222" text-anchor="middle" font-weight="normal" font-family="Liberation Sans">(音频)</text>
<text x="276.2" y="147.8" font-size="7.2" fill="#ff2626" text-anchor="middle" font-weight="normal" font-family="Liberation Sans" letter-spacing="1.2" stroke="#ff2626" stroke-width="0.25">扩容光端机</text>
<text x="276.2" y="157.4" font-size="7.2" fill="#ff2626" text-anchor="middle" font-weight="normal" font-family="Liberation Sans" letter-spacing="2.2" stroke="#ff2626" stroke-width="0.25">(接收机)</text>
<text x="569.8" y="163" font-size="7.2" fill="#ff2626" text-anchor="middle" font-weight="normal" font-family="Liberation Sans" letter-spacing="1.4" stroke="#ff2626" stroke-width="0.25">光端机</text>
<text x="570" y="172.9" font-size="7.2" fill="#ff2626" text-anchor="middle" font-weight="normal" font-family="Liberation Sans" letter-spacing="2.2" stroke="#ff2626" stroke-width="0.25">(接收机)</text>
<text x="38.4" y="366" font-size="7.2" fill="#ff2626" text-anchor="middle" font-weight="normal" font-family="Liberation Sans" letter-spacing="1.4" stroke="#ff2626" stroke-width="0.25">光端机</text>
<text x="38.5" y="376.3" font-size="7.2" fill="#ff2626" text-anchor="middle" font-weight="normal" font-family="Liberation Sans" letter-spacing="2.2" stroke="#ff2626" stroke-width="0.25">(发射机)</text>
<text x="439.2" y="410.4" font-size="7.2" fill="#ff2626" text-anchor="middle" font-weight="normal" font-family="Liberation Sans" letter-spacing="1.4" stroke="#ff2626" stroke-width="0.25">光端机</text>
<text x="439.4" y="420.4" font-size="7.2" fill="#ff2626" text-anchor="middle" font-weight="normal" font-family="Liberation Sans" letter-spacing="2.2" stroke="#ff2626" stroke-width="0.25">(发射机)</text>
<text x="54.5" y="452" font-size="7.5" fill="#111" text-anchor="middle" font-weight="bold" font-family="Liberation Serif">SDI</text>
<text x="54" y="461.7" font-size="7" fill="#222" text-anchor="middle" font-weight="normal" font-family="Liberation Sans">摄像机</text>
<text x="96.3" y="419.7" font-size="7" fill="#222" text-anchor="middle" font-weight="normal" font-family="Liberation Sans">音频</text>
<text x="96.3" y="429" font-size="7" fill="#222" text-anchor="middle" font-weight="normal" font-family="Liberation Sans">放大</text>
<text x="109" y="452" font-size="7" fill="#222" text-anchor="middle" font-weight="normal" font-family="Liberation Sans">有源</text>
<text x="109" y="461" font-size="7" fill="#222" text-anchor="middle" font-weight="normal" font-family="Liberation Sans">音箱</text>
<text x="133.3" y="452" font-size="7" fill="#222" text-anchor="middle" font-weight="normal" font-family="Liberation Sans">计算机</text>
<text x="165.9" y="451.3" font-size="7" fill="#222" text-anchor="middle" font-weight="normal" font-family="Liberation Sans">数据</text>
<text x="165.9" y="459" font-size="7" fill="#222" text-anchor="middle" font-weight="normal" font-family="Liberation Sans">设备</text>
<text x="90" y="476.8" font-size="7" fill="#222" text-anchor="middle" font-weight="normal" font-family="Liberation Sans">拾音器</text>
<text x="387.2" y="317" font-size="7.5" fill="#111" text-anchor="middle" font-weight="bold" font-family="Liberation Serif">SDI</text>
<text x="387.3" y="326.2" font-size="7" fill="#222" text-anchor="middle" font-weight="normal" font-family="Liberation Sans">摄像机</text>
<text x="416.7" y="326.2" font-size="7" fill="#222" text-anchor="middle" font-weight="normal" font-family="Liberation Sans">数据设备</text>
<text x="395" y="453.8" font-size="7" fill="#222" text-anchor="middle" font-weight="normal" font-family="Liberation Sans">计算机</text>
<text x="419" y="453.8" font-size="7" fill="#222" text-anchor="middle" font-weight="normal" font-family="Liberation Sans">拾音器</text>
<text x="559" y="461" font-size="19.8" fill="#111" text-anchor="middle" font-weight="normal" font-family="Liberation Sans" stroke="#111" stroke-width="0.45">线路扩容倍增通用型</text>
<text x="455" y="486.5" font-size="22" fill="#111" font-family="Liberation Mono" textLength="29" lengthAdjust="spacingAndGlyphs" stroke="#111" stroke-width="0.45">SDI</text>
<text x="484.8" y="485.5" font-size="19.8" fill="#111" text-anchor="start" font-weight="normal" font-family="Liberation Sans" stroke="#111" stroke-width="0.45">复合信号光端机应用</text>
</svg></body></html>
